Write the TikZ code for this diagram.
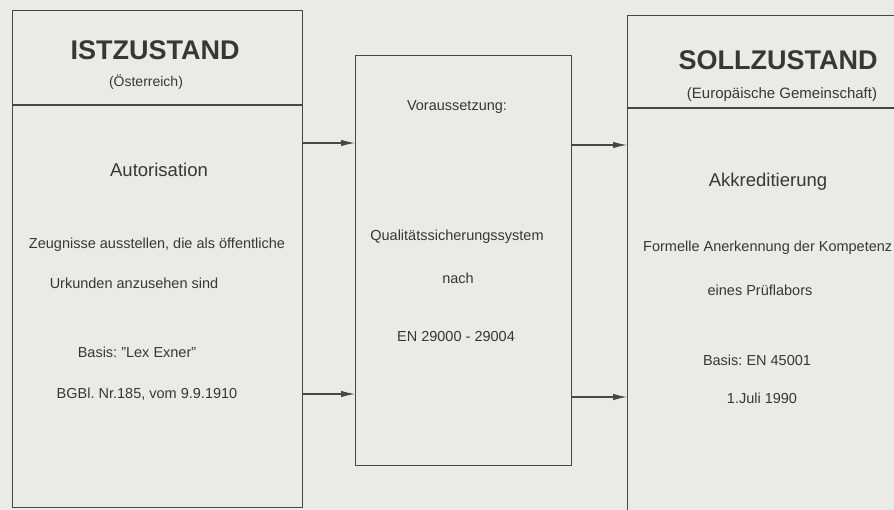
\documentclass[tikz,border=0pt]{standalone}
\usepackage{fontspec}
\setmainfont{Liberation Sans}
\usetikzlibrary{arrows.meta}
\definecolor{paper}{RGB}{234,234,232}
\definecolor{ink}{RGB}{55,55,55}
\definecolor{rule}{RGB}{70,70,70}
\tikzset{
  panel/.style={draw=rule, line width=1.2pt, anchor=north west, inner sep=0pt},
  divider/.style={draw=rule, line width=1.2pt},
  flow/.style={draw=rule, line width=1.1pt, -{Latex[length=14pt,width=6.5pt]}},
  lbl/.style={text=ink, inner sep=0pt, font=\fontsize{14.5}{17}\selectfont},
  small/.style={text=ink, inner sep=0pt, font=\fontsize{14}{16}\selectfont},
  mid/.style={text=ink, inner sep=0pt, font=\fontsize{18.5}{21}\selectfont},
  title/.style={text=ink, inner sep=0pt, font=\fontsize{27}{30}\selectfont\bfseries},
}
\frenchspacing
\begin{document}
\begin{tikzpicture}[x=1pt,y=-1pt]
  \useasboundingbox (0,0) rectangle (894,510);
  \clip (0,0) rectangle (894,510);
  \fill[paper] (0,0) rectangle (894,510);

  % the three panels
  \node[panel, minimum width=290pt, minimum height=497pt] (ist) at (12,10) {};
  \node[panel, minimum width=216pt, minimum height=410pt] (mid) at (355,55) {};
  \node[panel, minimum width=300pt, minimum height=530pt] (soll) at (627,15) {};

  % header dividers
  \draw[divider] (ist.west |- 0,105) -- (ist.east |- 0,105);
  \draw[divider] (soll.west |- 0,108) -- (soll.east |- 0,108);

  % connectors
  \draw[flow] (ist.east |- 0,143) -- (mid.west |- 0,143);
  \draw[flow] (ist.east |- 0,394) -- (mid.west |- 0,394);
  \draw[flow] (mid.east |- 0,145) -- (soll.west |- 0,145);
  \draw[flow] (mid.east |- 0,397) -- (soll.west |- 0,397);

  % present state
  \node[title] (istT) at (155,50) {ISTZUSTAND};
  \node[small] (istS) at (146,82) {(Österreich)};
  \node[mid] (istA) at (159,170) {Autorisation};
  \node[lbl] (istZ1) at (157,245) {Zeugnisse ausstellen, die als öffentliche};
  \node[lbl] (istZ2) at (134,283) {Urkunden anzusehen sind};
  \node[lbl] (istB1) at (137,352) {Basis: \symbol{"22}Lex Exner\symbol{"22}};
  \node[lbl] (istB2) at (147,394) {BGBl. Nr.185, vom 9.9.1910};

  % prerequisite
  \node[lbl] (midV) at (457,107) {Voraussetzung:};
  \node[lbl] (midQ) at (457,237) {Qualitätssicherungssystem};
  \node[lbl] (midN) at (458,278) {nach};
  \node[lbl] (midE) at (456,337) {EN 29000 - 29004};

  % target state
  \node[title] (sollT) at (778,60) {SOLLZUSTAND};
  \node[small, font=\fontsize{15}{17}\selectfont] (sollS) at (782,95) {(Europäische Gemeinschaft)};
  \node[mid] (sollA) at (768,182) {Akkreditierung};
  \node[lbl, anchor=west] (sollF1) at (643,248) {Formelle Anerkennung der Kompetenz};
  \node[lbl] (sollF2) at (760,290) {eines Prüflabors};
  \node[lbl] (sollB1) at (757,360) {Basis: EN 45001};
  \node[lbl] (sollB2) at (762,398) {1.Juli 1990};
\end{tikzpicture}
\end{document}
